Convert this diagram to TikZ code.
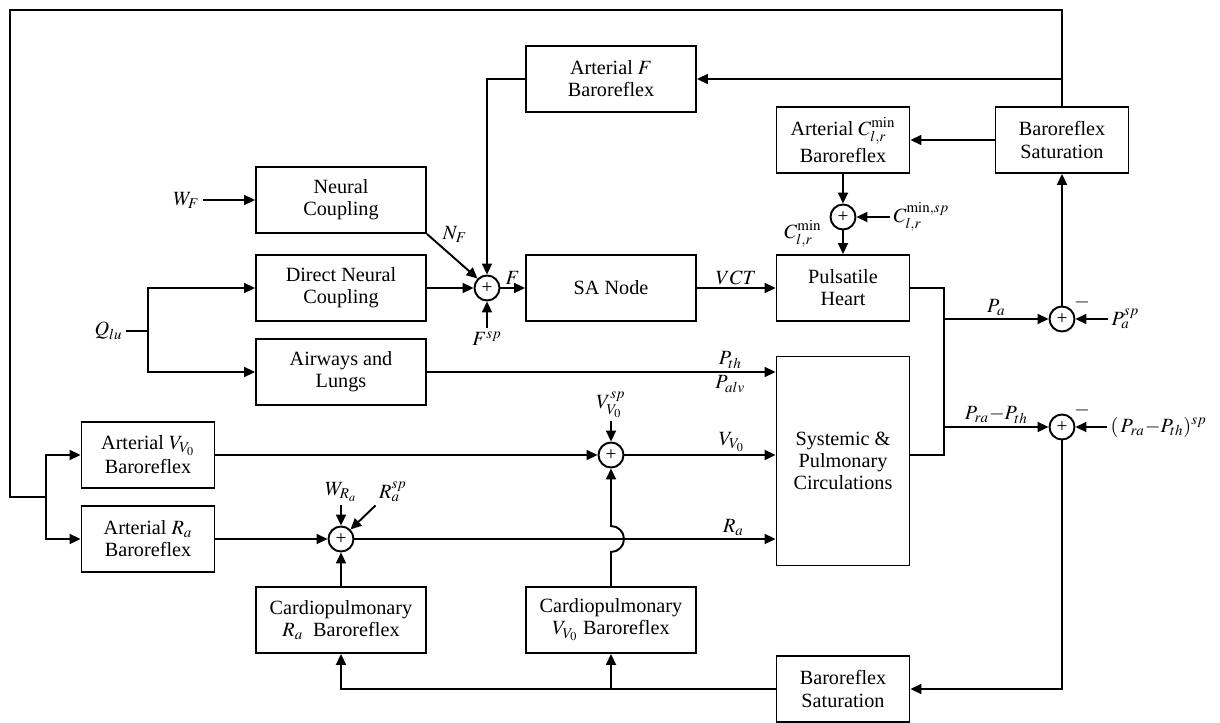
\documentclass[tikz,border=0pt]{standalone}
\usepackage{mathptmx}
\usepackage[no-math]{fontspec}
\setmainfont{Liberation Serif}
\usetikzlibrary{arrows.meta, positioning}

\begin{document}
\begin{tikzpicture}[x=0.02cm, y=-0.02cm, line width=1.1pt,
    font=\fontsize{11.5}{12.6}\selectfont,
    >={Triangle[length=0.22cm, width=0.2cm]},
    blk/.style={draw, minimum width=3.4cm, minimum height=1.32cm, align=center, inner sep=1pt},
    sblk/.style={blk, minimum width=2.66cm},
    sumnode/.style={draw, circle, minimum size=0.5cm, inner sep=0pt, font=\fontsize{11}{11}\selectfont},
    lbl/.style={inner sep=1.5pt}]
    \useasboundingbox (0,0) rectangle (1220,723);

    % blocks
    \node[blk] (artF) at (611,79) {Arterial $F$\\Baroreflex};
    \node[sblk] (bsT) at (1062,140) {Baroreflex\\Saturation};
    \node[sblk] (artC) at (843,140) {Arterial $C_{l,r}^{\min}$\\[1pt]Baroreflex};
    \node[blk] (nc) at (341,200) {Neural\\Coupling};
    \node[blk] (dnc) at (341,288) {Direct Neural\\Coupling};
    \node[blk] (sa) at (611,288) {SA Node};
    \node[sblk] (ph) at (843,288) {Pulsatile\\Heart};
    \node[blk] (aw) at (341,372) {Airways and\\Lungs};
    \node[sblk, minimum height=4.18cm] (sys) at (843,461) {Systemic \&\\Pulmonary\\Circulations};
    \node[sblk] (avv) at (148,455) {Arterial $V_{V_0}$\\[1pt]Baroreflex};
    \node[sblk] (ara) at (148,539) {Arterial $R_a$\\Baroreflex};
    \node[blk] (cpr) at (341,620) {Cardiopulmonary\\$R_a$~~Baroreflex};
    \node[blk] (cpv) at (611,620) {Cardiopulmonary\\$V_{V_0}$ Baroreflex};
    \node[sblk] (bsB) at (843,689) {Baroreflex\\Saturation};

    % summing points
    \node[sumnode] (sumC) at (843,217) {+};
    \node[sumnode] (sumF) at (487,288) {+};
    \node[sumnode] (sumV) at (611,455) {+};
    \node[sumnode] (sumR) at (341,539) {+};
    \node[sumnode] (sumPa) at (1062,319) {+};
    \node[sumnode] (sumPr) at (1062,427) {+};

    % free inputs
    \node[lbl, anchor=east] (wf) at (203,200) {$W_F$};
    \node[lbl] (nf) at (455,234) {$N_F$};
    \node[lbl] (fsp) at (487,339) {$F^{sp}$};
    \node[lbl, anchor=east] (qlu) at (126,331) {$Q_{lu}$};
    \node[lbl, anchor=west] (csp) at (890,217) {$C_{l,r}^{\min,sp}$};
    \node[lbl] (cmin) at (803,234) {$C_{l,r}^{\min}$};
    \node[lbl] (vsp) at (611,405) {$V_{V_0}^{sp}$};
    \node[lbl] (wra) at (341,492) {$W_{R_a}$};
    \node[lbl] (rasp) at (393,492) {$R_a^{sp}$};
    \node[lbl, anchor=west] (pasp) at (1108,319) {$P_a^{sp}$};
    \node[lbl, anchor=west] (prsp) at (1107,427) {$(\,P_{ra}{-}P_{th})^{sp}$};
    \node[lbl] (mPa) at (1082,302) {$-$};
    \node[lbl] (mPr) at (1082,410) {$-$};

    \coordinate (tl) at (10,10);
    \coordinate (lb) at (10,497);
    \coordinate (bj) at (46,497);
    \coordinate (qj) at (148,331);
    \coordinate (hj) at (944,319);
    \coordinate (sj) at (944,427);

    % outer loop
    \draw (bsT.north) |- (tl) -- (lb) -- (bj);
    \draw[->] (bj) |- (avv.west);
    \draw[->] (bj) |- (ara.west);
    \draw[->] (bsT.north |- artF.east) -- (artF.east);
    \draw[->] (artF.west) -| (sumF.north);
    \draw[->] (bsT.west) -- (artC.east);
    \draw[->] (artC.south) -- (sumC.north);
    \draw[->] (sumC.south) -- (ph.north);
    \draw[->] (csp.west) -- (sumC.east);

    % heart rate path
    \draw[->] (wf) -- (nc.west);
    \draw[->] (nc.south east) -- (sumF.north west);
    \draw[->] (dnc.east) -- (sumF.west);
    \draw[->] (fsp.north) -- (sumF.south);
    \draw[->] (sumF.east) -- (sa.west) node[midway, above, lbl] {$F$};
    \draw[->] (sa.east) -- (ph.west) node[midway, above, lbl] {$VCT$};
    \draw (qlu) -- (qj);
    \draw[->] (qj) |- (dnc.west);
    \draw[->] (qj) |- (aw.west);
    \draw[->] (aw.east) -- (aw.east -| sys.west)
        node[pos=0.87, above, lbl] {$P_{th}$} node[pos=0.87, below, lbl] {$P_{alv}$};

    % lower reflexes
    \draw[->] (avv.east) -- (sumV.west);
    \draw[->] (vsp.south) -- (sumV.north);
    \draw[->] (sumV.east) -- (sumV.east -| sys.west) node[pos=0.71, above, lbl] {$V_{V_0}$};
    \draw[->] (ara.east) -- (sumR.west);
    \draw[->] (wra.south) -- (sumR.north);
    \draw[->] (rasp.south west) -- (sumR.north east);
    \draw[->] (sumR.east) -- (sumR.east -| sys.west) node[pos=0.9, above, lbl] {$R_a$};
    \draw[->] (cpr.north) -- (sumR.south);
    \draw[->] (cpv.north) -- ([yshift=-0.26cm]cpv.north |- sumR) arc (-90:90:0.26cm) -- (sumV.south);

    % pressures
    \draw (ph.east) -| (hj) -- (sj) |- (sys.east |- sumV);
    \draw[->] (hj) -- (sumPa.west) node[midway, above, lbl] {$P_a$};
    \draw[->] (sj) -- (sumPr.west) node[midway, above, lbl] {$P_{ra}{-}P_{th}$};
    \draw[->] (pasp.west) -- (sumPa.east);
    \draw[->] (prsp.west) -- (sumPr.east);
    \draw[->] (sumPa.north) -- (bsT.south);
    \draw[->] (sumPr.south) |- (bsB.east);
    \draw[->] (bsB.west) -| (cpr.south);
    \draw[->] (cpv.south |- bsB.west) -- (cpv.south);
\end{tikzpicture}
\end{document}
